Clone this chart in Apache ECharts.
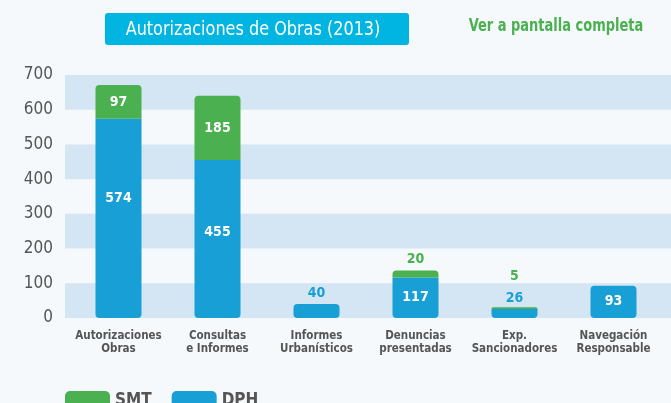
<!DOCTYPE html>
<html>
<head>
<meta charset="utf-8">
<style>
  html, body { margin: 0; padding: 0; background: #f5f9fc; }
  #main { width: 671px; height: 403px; }
</style>
<script src="https://cdn.jsdelivr.net/npm/echarts@6/dist/echarts.min.js"></script>
</head>
<body>
<div id="main"></div>
<script>
  // datos
  var categories = ['Autorizaciones\nObras', 'Consultas\ne Informes', 'Informes\nUrbanísticos',
    'Denuncias\npresentadas', 'Exp.\nSancionadores', 'Navegación\nResponsable']
  var dph = [574, 455, 40, 117, 26, 93]
  var smt = [97, 185, 0, 20, 5, 0]
  var yTicks = [0, 100, 200, 300, 400, 500, 600, 700]

  var BLUE = '#18a0d6'
  var GREEN = '#4bb04f'
  var FONT = '"DejaVu Sans Condensed", "DejaVu Sans", sans-serif'

  // etiquetas: dentro si el segmento es alto, encima si es bajo
  var dphData = dph.map(function (v, i) {
    var alone = !smt[i]
    var small = v < 60
    var item = {
      value: v,
      itemStyle: { borderRadius: alone ? [4, 4, 4, 4] : [0, 0, 4, 4] },
      label: small
        ? { position: 'top', color: BLUE, distance: 4 }
        : { position: 'inside', color: '#fff' }
    }
    if (i === 0) item.label.offset = [0, -20]
    if (i === 1) item.label.offset = [0, -7]
    return item
  })
  var smtData = smt.map(function (v, i) {
    if (!v) return { value: '-' }
    var small = v < 60
    return {
      value: v,
      itemStyle: { borderRadius: [4, 4, 0, 0] },
      label: small
        ? { position: 'top', color: GREEN, distance: dph[i] < 60 ? 24 : 4 }
        : { position: 'inside', color: '#fff' }
    }
  })

  var chart = echarts.init(document.getElementById('main'))
  chart.setOption({
    backgroundColor: '#f5f9fc',
    textStyle: { fontFamily: FONT },
    // cabecera: caja del título y enlace
    graphic: [{
      type: 'rect',
      left: 105,
      top: 13,
      shape: { width: 304, height: 32, r: 3 },
      style: { fill: '#00b5e2' }
    }, {
      type: 'text',
      x: 253,
      y: 30,
      scaleX: 0.94,
      style: {
        text: 'Autorizaciones de Obras (2013)',
        fill: '#fff',
        font: '19px ' + FONT,
        align: 'center',
        verticalAlign: 'middle'
      }
    }, {
      type: 'text',
      x: 556,
      y: 27,
      scaleX: 0.85,
      style: {
        text: 'Ver a pantalla completa',
        fill: GREEN,
        font: 'bold 17px ' + FONT,
        align: 'center',
        verticalAlign: 'middle'
      }
    }],
    legend: {
      data: ['SMT', 'DPH'],
      left: 60,
      top: 386,
      itemWidth: 45,
      itemHeight: 20,
      itemGap: 20,
      icon: 'roundRect',
      textStyle: { color: '#555', fontSize: 17, fontWeight: 'bold', fontFamily: FONT }
    },
    grid: [
      { left: 65, right: 0, top: 75, bottom: 85 },
      { left: 69, right: 8, top: 75, bottom: 85 }
    ],
    xAxis: [{
      type: 'category',
      gridIndex: 0,
      data: categories,
      show: false
    }, {
      type: 'category',
      gridIndex: 1,
      data: categories,
      axisLine: { show: false },
      axisTick: { show: false },
      axisLabel: {
        interval: 0,
        margin: 12,
        color: '#555',
        fontSize: 11.5,
        fontWeight: 'bold',
        lineHeight: 12.5,
        fontFamily: FONT
      }
    }],
    yAxis: [{
      type: 'value',
      gridIndex: 0,
      min: yTicks[0],
      max: yTicks[yTicks.length - 1],
      interval: 100,
      axisLine: { show: false },
      axisTick: { show: false },
      axisLabel: { color: '#555', fontSize: 17, margin: 12, fontFamily: FONT },
      splitLine: { show: false },
      splitArea: {
        show: true,
        areaStyle: { color: ['#d4e5f3', 'rgba(0,0,0,0)'] }
      }
    }, {
      type: 'value',
      gridIndex: 1,
      min: yTicks[0],
      max: yTicks[yTicks.length - 1],
      interval: 100,
      show: false,
      splitLine: { show: false }
    }],
    series: [{
      name: 'DPH',
      type: 'bar',
      xAxisIndex: 1,
      yAxisIndex: 1,
      stack: 'total',
      barWidth: 46,
      itemStyle: { color: BLUE },
      label: { show: true, fontSize: 14, fontWeight: 'bold', fontFamily: FONT },
      data: dphData
    }, {
      name: 'SMT',
      type: 'bar',
      xAxisIndex: 1,
      yAxisIndex: 1,
      stack: 'total',
      barWidth: 46,
      itemStyle: { color: GREEN },
      label: { show: true, fontSize: 14, fontWeight: 'bold', fontFamily: FONT },
      data: smtData
    }]
  })
</script>
</body>
</html>
